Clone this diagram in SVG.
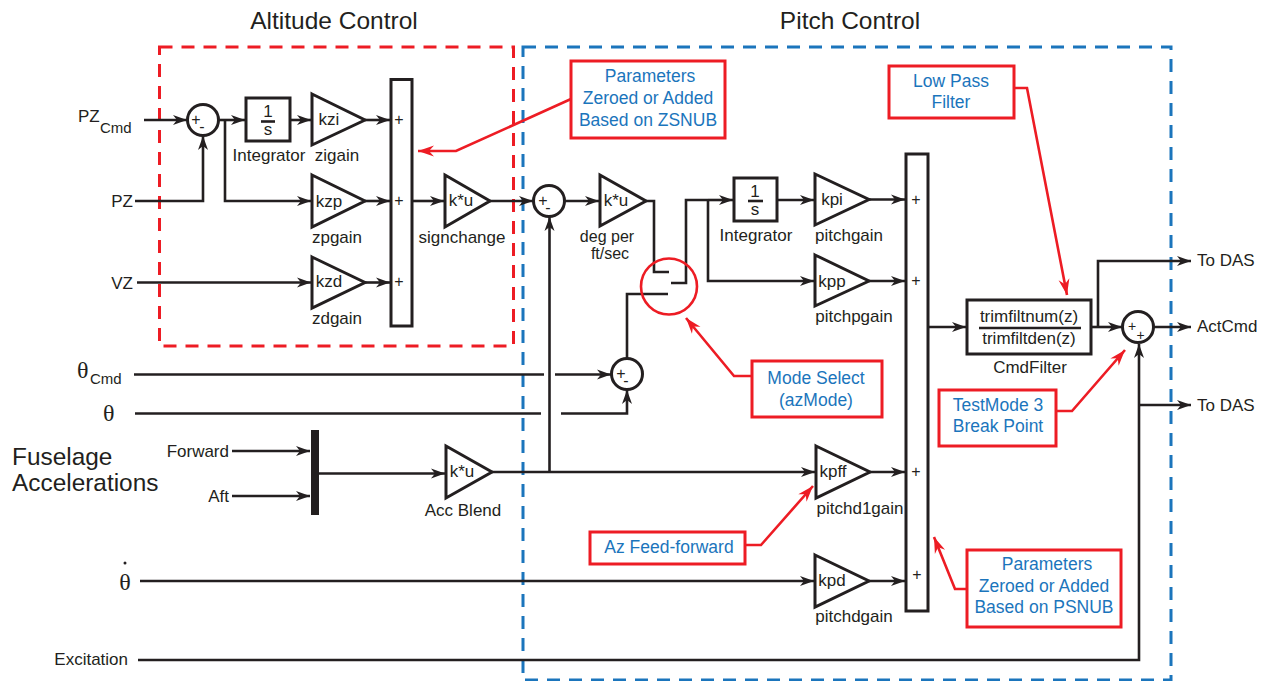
<svg xmlns="http://www.w3.org/2000/svg" width="1265" height="681" viewBox="0 0 1265 681">
<style>
text{font-family:"Liberation Sans",Arial,sans-serif;fill:#231f20;font-size:17px;text-anchor:middle}
.n{fill:#fff;stroke:#231f20;stroke-width:3}
.w{fill:none;stroke:#231f20;stroke-width:2.6}
.a{marker-end:url(#ah)}
.r{fill:none;stroke:#ed1c24;stroke-width:2.6;marker-end:url(#rh)}
.rb{fill:#fff;stroke:#ed1c24;stroke-width:3}
.b{fill:#1b75bc;font-size:17.500px}
.s{font-family:"Liberation Serif",serif;font-size:24px}
.e{text-anchor:end}
.st{text-anchor:start}
.o{font-size:16px}
.t{font-size:24.500px}
.f{font-size:24.400px}
.c{font-size:15px}
</style>
<defs>
<marker id="ah" markerUnits="userSpaceOnUse" markerWidth="16" markerHeight="12" refX="14" refY="6" orient="auto"><path d="M0,1 L14,6 L0,11 L4,6Z" fill="#231f20"/></marker>
<marker id="rh" markerUnits="userSpaceOnUse" markerWidth="18" markerHeight="14" refX="16" refY="7" orient="auto"><path d="M0,1.5 L16,7 L0,12.500 L5,7Z" fill="#ed1c24"/></marker>
</defs>
<g id="regions" fill="none" stroke-width="3">
<rect id="altitude-region" x="159.500" y="47" width="354" height="299" stroke="#ed1c24" stroke-dasharray="13 9"/>
<rect id="pitch-region" x="523" y="47" width="648" height="633" stroke="#1b75bc" stroke-dasharray="13 9"/>
<text x="334" y="29" class="t">Altitude Control</text>
<text x="850" y="29" class="t">Pitch Control</text>
</g>
<g id="connectors">
<path class="w a" d="M144,120H187"/>
<path class="w a" d="M135,201H203V136"/>
<path class="w a" d="M218,120H245"/>
<path class="w a" d="M225,120V201H311"/>
<path class="w a" d="M290,120H311"/>
<path class="w a" d="M365,120H390"/>
<path class="w a" d="M365,201H390"/>
<path class="w a" d="M137,282.500H311"/>
<path class="w a" d="M365,282.500H390"/>
<path class="w a" d="M412,201H444"/>
<path class="w a" d="M490,201H533"/>
<path class="w a" d="M564,201H599"/>
<path class="w" d="M646,201H654V272H669"/>
<path class="w" d="M671,283H686V200H708"/>
<path class="w a" d="M708,200H733"/>
<path class="w a" d="M708,200V281H814"/>
<path class="w a" d="M777,200H814"/>
<path class="w a" d="M869,199.500H905"/>
<path class="w a" d="M869,281H905"/>
<path class="w" d="M668,294H627V358"/>
<path class="w" d="M134,374.500H544"/>
<path class="w a" d="M555,374.500H611"/>
<path class="w" d="M135,413.500H541"/>
<path class="w a" d="M561,413.500H627V390"/>
<path class="w a" d="M232,451H310"/>
<path class="w a" d="M232,496H310"/>
<path class="w a" d="M319,473.500H445"/>
<path class="w a" d="M492,472H815"/>
<path class="w a" d="M549.500,472V217"/>
<path class="w a" d="M870,472H905"/>
<path class="w a" d="M140,581H814"/>
<path class="w a" d="M869,581H905"/>
<path class="w a" d="M929,327H966"/>
<path class="w a" d="M1091,327H1122"/>
<path class="w a" d="M1098,327V261H1191"/>
<path class="w a" d="M1153,327H1191"/>
<path class="w a" d="M138,660H1139V344"/>
<path class="w a" d="M1139,405H1191"/>
</g>
<g id="sum-pz"><circle class="n" cx="203" cy="120" r="15.500"/><text class="o" x="196" y="125">+</text><text class="o" x="202" y="132">-</text></g>
<g id="integrator-z"><rect class="n" x="246" y="98" width="44" height="43"/><text x="268" y="117">1</text><path class="w" d="M261,121.500H275"/><text x="268" y="135">s</text><text x="269" y="161">Integrator</text></g>
<g id="zigain"><path class="n" d="M312,94L365,120L312,145Z"/><text x="329" y="125">kzi</text><text x="337" y="161">zigain</text></g>
<g id="zpgain"><path class="n" d="M312,175L365,201L312,227Z"/><text x="329" y="207">kzp</text><text x="337" y="243">zpgain</text></g>
<g id="zdgain"><path class="n" d="M312,257L365,282.500L312,308Z"/><text x="329" y="287">kzd</text><text x="337" y="324">zdgain</text></g>
<g id="sum-bar-z"><rect class="n" x="391" y="79.500" width="21" height="246.500"/><text class="o" x="399" y="125">+</text><text class="o" x="399" y="206">+</text><text class="o" x="399" y="287">+</text></g>
<g id="signchange"><path class="n" d="M445,175L490,201L445,227Z"/><text x="461" y="206">k*u</text><text x="462" y="243">signchange</text></g>
<g id="sum-pitch"><circle class="n" cx="549" cy="201" r="15.500"/><text class="o" x="543" y="206">+</text><text class="o" x="548" y="213">-</text></g>
<g id="deg-per"><path class="n" d="M600,175L646,201L600,226Z"/><text x="616" y="206">k*u</text><text x="607" y="242" class="o">deg per</text><text x="610" y="258.500" class="o">ft/sec</text></g>
<g id="mode-switch"><circle cx="669" cy="286.500" r="28" fill="none" stroke="#ed1c24" stroke-width="2.600"/></g>
<g id="sum-theta"><circle class="n" cx="627" cy="374" r="15.500"/><text class="o" x="621" y="379">+</text><text class="o" x="626" y="386">-</text></g>
<g id="integrator-p"><rect class="n" x="734" y="178" width="43" height="43"/><text x="755" y="197">1</text><path class="w" d="M748,201H763"/><text x="755" y="215">s</text><text x="756" y="241">Integrator</text></g>
<g id="pitchgain"><path class="n" d="M815,174L869,199.500L815,225Z"/><text x="832" y="205">kpi</text><text x="849" y="241">pitchgain</text></g>
<g id="pitchpgain"><path class="n" d="M815,255L869,281L815,306Z"/><text x="832" y="287">kpp</text><text x="854" y="322">pitchpgain</text></g>
<g id="acc-blend"><path class="n" d="M446,446L492,472L446,498Z"/><text x="462" y="477">k*u</text><text x="463" y="516">Acc Blend</text></g>
<g id="pitchd1gain"><path class="n" d="M816,446L870,472L816,498Z"/><text x="833" y="477">kpff</text><text x="860" y="514">pitchd1gain</text></g>
<g id="pitchdgain"><path class="n" d="M815,555L869,581L815,607Z"/><text x="832" y="586">kpd</text><text x="854" y="622">pitchdgain</text></g>
<g id="sum-bar-p"><rect class="n" x="906" y="154" width="22" height="457"/><text class="o" x="916" y="205">+</text><text class="o" x="916" y="286">+</text><text class="o" x="916" y="477">+</text><text class="o" x="917" y="580">+</text></g>
<g id="cmdfilter"><rect class="n" x="967" y="300" width="124" height="54"/><text x="1029" y="322">trimfiltnum(z)</text><path class="w" d="M979,328H1081"/><text x="1029" y="344">trimfiltden(z)</text><text x="1030" y="373">CmdFilter</text></g>
<g id="sum-out"><circle class="n" cx="1138" cy="327" r="15.500"/><text class="o" x="1132" y="331" style="font-size:14px">+</text><text class="o" x="1140.500" y="340" style="font-size:14px">+</text></g>
<g id="bus"><rect x="311" y="430" width="8" height="85" fill="#231f20"/></g>
<g id="inputs">
<text class="st" x="78" y="122">PZ</text><text class="st c" x="100" y="133">Cmd</text>
<text class="e" x="133" y="207">PZ</text>
<text class="e" x="133" y="289">VZ</text>
<text class="s st" x="77" y="378">θ</text><text class="st c" x="90" y="384">Cmd</text>
<text class="s st" x="103" y="421">θ</text>
<text class="s" x="125" y="590">θ</text><circle cx="125" cy="563" r="1.500" fill="#231f20"/>
<text class="e" x="229" y="457">Forward</text>
<text class="e" x="229" y="502">Aft</text>
<text class="st f" x="12" y="465">Fuselage</text>
<text class="st f" x="12" y="491">Accelerations</text>
<text class="e" x="128" y="665">Excitation</text>
</g>
<g id="outputs">
<text class="st" x="1197" y="266">To DAS</text>
<text class="st" x="1197" y="332">ActCmd</text>
<text class="st" x="1197" y="411">To DAS</text>
</g>
<g id="note-zsnub"><path class="r" d="M571,99L456,151H418"/><rect class="rb" x="571" y="61" width="154" height="77"/><text class="b" x="650" y="82">Parameters</text><text class="b" x="648" y="104">Zeroed or Added</text><text class="b" x="648" y="126">Based on ZSNUB</text></g>
<g id="note-lowpass"><path class="r" d="M1014,88H1027L1067,295"/><rect class="rb" x="889" y="66" width="125" height="52"/><text class="b" x="951" y="87">Low Pass</text><text class="b" x="951" y="108">Filter</text></g>
<g id="note-mode"><path class="r" d="M751,376H734L686,318"/><rect class="rb" x="752" y="361" width="130" height="56"/><text class="b" x="816" y="384">Mode Select</text><text class="b" x="816" y="406">(azMode)</text></g>
<g id="note-testmode"><path class="r" d="M1056,411H1072L1125,350"/><rect class="rb" x="939" y="390" width="117" height="56"/><text class="b" x="998" y="411">TestMode 3</text><text class="b" x="998" y="432">Break Point</text></g>
<g id="note-azff"><path class="r" d="M745,545H761L813,486"/><rect class="rb" x="590" y="532" width="155" height="32"/><text class="b" x="669" y="553">Az Feed-forward</text></g>
<g id="note-psnub"><path class="r" d="M967,589H955L934,537"/><rect class="rb" x="967" y="550" width="154" height="77"/><text class="b" x="1047" y="570">Parameters</text><text class="b" x="1044" y="592">Zeroed or Added</text><text class="b" x="1044" y="613">Based on PSNUB</text></g>
</svg>
